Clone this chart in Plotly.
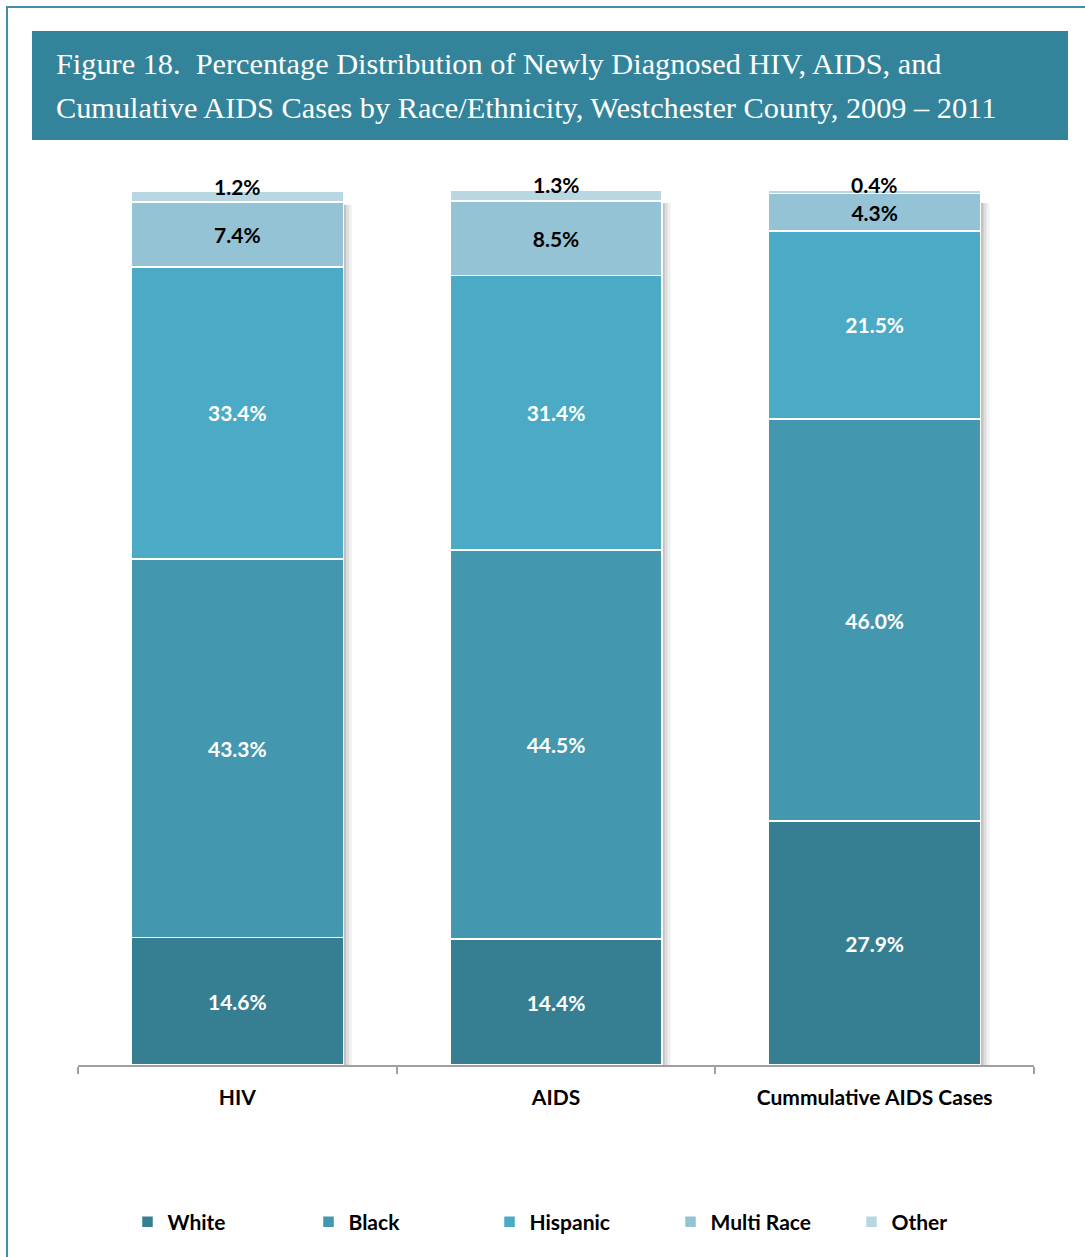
import plotly.graph_objects as go

# Stacked percentage distribution by race/ethnicity
categories = ["HIV", "AIDS", "Cummulative AIDS Cases"]
series_names = ["White", "Black", "Hispanic", "Multi Race", "Other"]
white = [14.6, 14.4, 27.9]
black = [43.3, 44.5, 46.0]
hispanic = [33.4, 31.4, 21.5]
multi_race = [7.4, 8.5, 4.3]
other = [1.2, 1.3, 0.4]

series_values = [white, black, hispanic, multi_race, other]
colors = ["#367F93", "#4397AF", "#4BABC6", "#93C3D5", "#B9D7E3"]
label_colors = ["white", "white", "white", "black", None]

title_line1 = "Figure 18.  Percentage Distribution of Newly Diagnosed HIV, AIDS, and"
title_line2 = "Cumulative AIDS Cases by Race/Ethnicity, Westchester County, 2009 \u2013 2011"

FIG_W, FIG_H = 1085, 1257
L, R, T, B = 78, 1034, 189, 1065
PW, PH = R - L, B - T


def px_x(x):
    return (x - L) / PW


def px_y(y):
    return (B - y) / PH


LABEL_FONT = dict(family="Lato, 'Open Sans', sans-serif", size=21, weight="bold")

fig = go.Figure()

for name, vals, col, lcol in zip(series_names, series_values, colors, label_colors):
    fig.add_trace(go.Bar(
        name=name,
        x=categories,
        y=vals,
        marker=dict(color=col, line=dict(color="white", width=1.5)),
        text=[f"{v:.1f}%" for v in vals] if lcol else None,
        texttemplate="%{text}" if lcol else None,
        textposition="inside" if lcol else "none",
        insidetextanchor="middle",
        textangle=0,
        constraintext="none",
        textfont=dict(LABEL_FONT, color=lcol or "black"),
        hoverinfo="skip",
    ))

# Labels for the thin top segments sit on the bar tops
totals = [sum(s[i] for s in series_values) for i in range(len(categories))]
annotations = []
for i in range(len(categories)):
    annotations.append(dict(
        x=i, y=totals[i], xref="x", yref="y",
        text=f"{other[i]:.1f}%", showarrow=False,
        yanchor="middle", yshift=5,
        font=dict(LABEL_FONT, color="black"),
    ))

# Title lines inside the banner
for txt, yc in [(title_line1, 64), (title_line2, 108)]:
    annotations.append(dict(
        x=px_x(54), y=px_y(yc), xref="paper", yref="paper",
        xanchor="left", yanchor="middle", showarrow=False, text=txt,
        font=dict(family="'Liberation Serif', serif", size=30.3, color="white"),
    ))

shapes = []
# Soft drop shadow on the right edge of each bar
half = (1 - 0.335) / 2
for i in range(len(categories)):
    for k, op in enumerate([0.24, 0.13, 0.06]):
        shapes.append(dict(
            type="rect", xref="x", yref="y", layer="below",
            x0=i + half + k * 0.009, x1=i + half + (k + 1) * 0.009,
            y0=0, y1=totals[i] - 1.5,
            fillcolor=f"rgba(0,0,0,{op})", line=dict(width=0),
        ))

# Banner and outer frame
shapes.append(dict(type="rect", xref="paper", yref="paper",
                   x0=px_x(32), x1=px_x(1068), y0=px_y(140), y1=px_y(31),
                   fillcolor="#33849A", line=dict(width=0), layer="below"))
shapes.append(dict(type="line", xref="paper", yref="paper",
                   x0=px_x(7), x1=px_x(7), y0=px_y(7), y1=px_y(1260),
                   line=dict(color="#3F8FA8", width=2)))
shapes.append(dict(type="line", xref="paper", yref="paper",
                   x0=px_x(6), x1=px_x(1090), y0=px_y(7), y1=px_y(7),
                   line=dict(color="#3F8FA8", width=2)))

fig.update_layout(
    width=FIG_W, height=FIG_H,
    margin=dict(l=L, r=FIG_W - R, t=T, b=FIG_H - B, pad=0, autoexpand=False),
    paper_bgcolor="white", plot_bgcolor="white",
    barmode="stack", bargap=0.335,
    showlegend=True,
    legend=dict(
        orientation="h", x=px_x(580), xanchor="center",
        y=px_y(1222), yanchor="middle",
        font=dict(LABEL_FONT, color="black"),
        traceorder="normal",
        entrywidth=136, entrywidthmode="pixels",
        itemwidth=30,
    ),
    xaxis=dict(
        showline=True, linecolor="#A0A0A0", linewidth=1.5,
        ticks="outside", ticklen=7, tickcolor="#A0A0A0", tickwidth=1.5,
        tickson="boundaries", ticklabelstandoff=13,
        tickfont=dict(LABEL_FONT, color="black"),
        showgrid=False, zeroline=False, fixedrange=True, automargin=False,
    ),
    yaxis=dict(
        range=[0, 100.2], visible=False, showgrid=False, zeroline=False,
    ),
    annotations=annotations,
    shapes=shapes,
)

fig.write_html("out.html")
